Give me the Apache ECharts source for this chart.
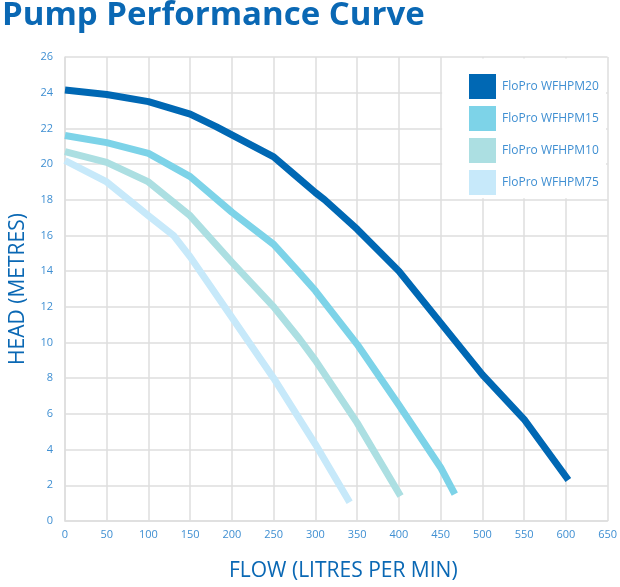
<!DOCTYPE html>
<html>
<head>
<meta charset="utf-8">
<title>Pump Performance Curve</title>
<script src="https://cdn.jsdelivr.net/npm/echarts@6/dist/echarts.min.js"></script>
<style>
html,body{margin:0;padding:0;background:#fff;}
#chart{width:620px;height:587px;}
</style>
</head>
<body>
<div id="chart"></div>
<script>
var seriesNames = ['FloPro WFHPM20', 'FloPro WFHPM15', 'FloPro WFHPM10', 'FloPro WFHPM75'];
var seriesColors = ['#0068b4', '#7dd3e8', '#acdfe2', '#c7e9fa'];

// flow (litres per min) / head (metres)
var flow20 = [0, 50, 100, 150, 181, 250, 275, 300, 311, 350, 400, 450, 500, 550, 603];
var head20 = [24.15, 23.9, 23.5, 22.8, 22.1, 20.4, 19.4, 18.4, 18.0, 16.35, 14.0, 11.1, 8.2, 5.7, 2.3];
var flow15 = [0, 50, 100, 150, 200, 250, 281, 300, 350, 400, 450, 467];
var head15 = [21.6, 21.2, 20.6, 19.3, 17.3, 15.5, 13.9, 12.9, 9.9, 6.5, 3.0, 1.5];
var flow10 = [0, 50, 100, 150, 200, 250, 281, 300, 350, 402];
var head10 = [20.7, 20.1, 19.0, 17.1, 14.5, 12.0, 10.2, 9.0, 5.5, 1.4];
var flow75 = [0, 50, 100, 130, 150, 200, 250, 300, 341];
var head75 = [20.2, 19.0, 17.1, 16.0, 14.8, 11.4, 8.0, 4.3, 1.05];

var flows = [flow20, flow15, flow10, flow75];
var heads = [head20, head15, head10, head75];

function pairs(xs, ys) {
	var out = [];
	for (var i = 0; i < xs.length; i++) {
		out.push([xs[i], ys[i]]);
	}
	return out;
}

var chart = echarts.init(document.getElementById('chart'));
var labelColor = '#3f8fd2';
var titleColor = '#0a68b4';
var gridColor = '#dedede';

var series = [];
for (var s = 0; s < seriesNames.length; s++) {
	series.push({
		name : seriesNames[s],
		type : 'line',
		z : 3,
		showSymbol : false,
		symbol : 'none',
		smooth : false,
		lineStyle : {
			width : 7,
			color : seriesColors[s],
			cap : 'butt',
			join : 'round'
		},
		itemStyle : { color : seriesColors[s] },
		data : pairs(flows[s], heads[s])
	});
}

chart.setOption({
	animation : false,
	title : {
		text : 'Pump Performance Curve',
		left : -3,
		top : -6,
		textStyle : {
			color : titleColor,
			fontFamily : 'Open Sans',
			fontWeight : 'bold',
			fontSize : 33
		}
	},
	grid : {
		left : 61,
		right : 9,
		top : 57,
		bottom : 62,
		containLabel : false
	},
	legend : {
		orient : 'vertical',
		left : 464,
		top : 69,
		itemWidth : 27,
		itemHeight : 25,
		itemGap : 7,
		icon : 'rect',
		z : 5,
		textStyle : {
			color : labelColor,
			fontFamily : 'Open Sans',
			fontSize : 12,
			padding : [0, 0, 0, 1]
		},
		data : seriesNames
	},
	xAxis : {
		type : 'value',
		min : 0,
		max : 650,
		interval : 50,
		name : 'FLOW (LITRES PER MIN)',
		nameLocation : 'middle',
		nameGap : 40,
		nameTextStyle : {
			color : titleColor,
			fontFamily : 'Open Sans',
			fontSize : 21,
			padding : [0, 0, 0, 14]
		},
		axisLine : { lineStyle : { color : gridColor, width : 1.5 } },
		axisTick : { show : false },
		axisLabel : {
			color : labelColor,
			fontFamily : 'Open Sans',
			fontSize : 11,
			margin : 8
		},
		splitLine : { lineStyle : { color : gridColor, width : 1.5 } }
	},
	yAxis : {
		type : 'value',
		min : 0,
		max : 26,
		interval : 2,
		name : 'HEAD (METRES)',
		nameLocation : 'middle',
		nameRotate : 90,
		nameGap : 36,
		nameTextStyle : {
			color : titleColor,
			fontFamily : 'Open Sans',
			fontSize : 21
		},
		axisLine : { show : true, lineStyle : { color : gridColor, width : 1.5 } },
		axisTick : { show : false },
		axisLabel : {
			color : labelColor,
			fontFamily : 'Open Sans',
			fontSize : 11,
			margin : 12
		},
		splitLine : { lineStyle : { color : gridColor, width : 1.5 } }
	},
	series : series
});

// white box behind the legend, hides the grid cells 450-650 / 18-26
var p1 = chart.convertToPixel({ gridIndex : 0 }, [450, 26]);
var p2 = chart.convertToPixel({ gridIndex : 0 }, [650, 18]);
chart.setOption({
	graphic : [{
		type : 'rect',
		z : 1,
		shape : {
			x : p1[0] + 1.5,
			y : p1[1] + 1.5,
			width : p2[0] - p1[0] - 3,
			height : p2[1] - p1[1] - 3
		},
		style : { fill : '#fff' }
	}]
});
</script>
</body>
</html>
